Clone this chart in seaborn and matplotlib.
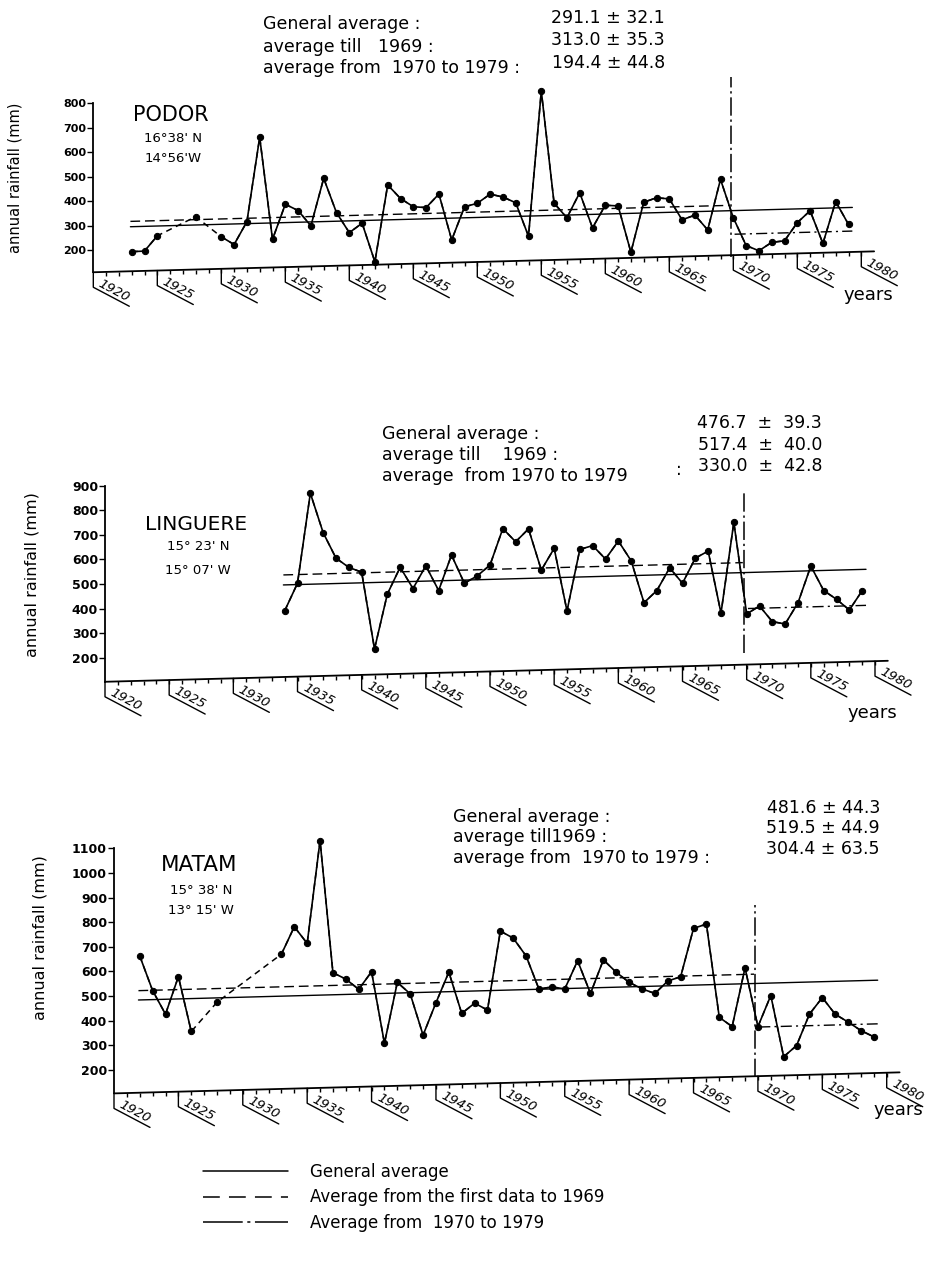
import numpy as np
import pandas as pd
import seaborn as sns
import matplotlib.pyplot as plt
from matplotlib.lines import Line2D
from matplotlib.transforms import Affine2D, IdentityTransform

W, H, DPI = 927, 1281, 100

# the original is drawn in oblique projection: the time axis climbs ~1.4 mm/year
SHEAR = 1.4
BREAK = 1969.8
nan = np.nan

# annual rainfall (mm), nan = missing year
podor_years = list(range(1923, 1980))
podor_rain = [189, 190, 251, nan, nan, 325, nan, 240, 207, 299,
              643, 224, 366, 339, 275, 468, 326, 243, 280, 121,
              434, 377, 342, 337, 391, 202, 336, 349, 385, 372,
              347, 209, 801, 341, 280, 381, 236, 327, 323, 132,
              335, 352, 346, 259, 277, 215, 420,
              262, 147, 124, 157, 162, 235, 282, 147, 317, 222]
podor_mean = [291.1, 313.0, 194.4]
podor_sd = [32.1, 35.3, 44.8]

linguere_years = list(range(1934, 1980))
linguere_rain = [371, 482, 847, 685, 580, 541, 520, 206, 428, 536,
                 448, 539, 437, 580, 464, 492, 535, 682, 627, 678,
                 509, 596, 340, 589, 603, 547, 619, 537, 365, 413,
                 504, 440, 541, 568, 314, 682,
                 308, 339, 274, 263, 348, 496, 395, 358, 313, 390]
linguere_mean = [476.7, 517.4, 330.0]
linguere_sd = [39.3, 40.0, 42.8]

matam_years = list(range(1922, 1980))
matam_rain = [660, 518, 421, 572, 348, nan, 464, nan, nan, nan,
              nan, 652, 762, 693, 1109, 571, 544, 501, 571, 279,
              525, 477, 308, 438, 561, 392, 432, 403, 722, 692,
              618, 482, 490, 480, 593, 459, 594, 542, 500, 472,
              452, 501, 517, 712, 728, 348, 309, 546,
              306, 431, 181, 225, 351, 417, 348, 315, 279, 252]
matam_mean = [481.6, 519.5, 304.4]
matam_sd = [44.3, 44.9, 63.5]

podor_labels = ["General average :", "average till   1969 :", "average from  1970 to 1979 :"]
linguere_labels = ["General average :", "average till    1969 :", "average  from 1970 to 1979"]
matam_labels = ["General average :", "average till1969 :", "average from  1970 to 1979 :"]
legend_labels = ["General average", "Average from the first data to 1969",
                 "Average from  1970 to 1979"]

sns.set_style("white")
plt.rcParams["font.family"] = ["DejaVu Sans"]
plt.rcParams["text.color"] = "black"
plt.rcParams["axes.labelcolor"] = "black"

fig = plt.figure(figsize=(W / DPI, H / DPI), dpi=DPI)

DASH = (0, (7, 3.5))
DASHDOT = (0, (8, 3, 1.5, 3))


def put(x, y, s, **kw):
    fig.text(x / W, 1 - y / H, s, **kw)


def draw_station(cfg, years, rain, means, sds, labels):
    x0, x1 = cfg["x1920"], cfg["x1980"]
    y200, sc = cfg["y200"], cfg["scale"]
    base, top = cfg["base"], cfg["top"]

    def ypx(v):
        return y200 - (v - 200) * sc

    ax = fig.add_axes([x0 / W, 1 - ypx(base) / H, (x1 - x0) / W,
                       (ypx(base) - ypx(top)) / H])
    ax.patch.set_visible(False)
    oblique = Affine2D(np.array([[1, 0, 0], [SHEAR, 1, -SHEAR * 1920],
                                 [0, 0, 1]])) + ax.transData

    df = pd.DataFrame({"year": years, "rain": rain})
    df["segment"] = df["rain"].isna().cumsum()
    valid = df.dropna()

    # dashed bridge over missing years, then the observed runs on top
    sns.lineplot(data=valid, x="year", y="rain", ax=ax, color="black",
                 lw=1.1, linestyle=(0, (4, 3)))
    sns.lineplot(data=valid, x="year", y="rain", units="segment",
                 estimator=None, ax=ax, color="black", lw=1.2,
                 marker="o", ms=4.5, mec="black")
    for ln in ax.lines:
        ln.set_transform(oblique)
        ln.set_clip_on(False)

    ax.set_xlim(1920, 1980)
    ax.set_ylim(base, top)

    first = valid["year"].iloc[0]
    spans = [(first - 0.1, 1979.3), (first - 0.1, 1969.7), (1970.1, 1979.3)]
    for m, (a, b), ls in zip(means, spans, ["-", DASH, DASHDOT]):
        ax.plot([a, b], [m, m], color="black", lw=1.0, linestyle=ls,
                transform=oblique, clip_on=False)

    ax.plot([BREAK, BREAK], cfg["vline"], color="black", lw=1.1,
            linestyle=(0, (12, 2.5, 1.5, 2.5)), clip_on=False)

    # slanted time axis
    ax.plot([1920, 1981], [base, base], color="black", lw=1.3,
            transform=oblique, clip_on=False)
    ax.plot(list(range(1921, 1981)), [base] * 60, ls="none", marker=3, ms=3,
            mew=1, color="black", transform=oblique, clip_on=False)
    for yr in range(1920, 1985, 5):
        px, py = oblique.transform((yr, base))
        fig.add_artist(Line2D([px, px, px + 36], [py, py - 15, py - 34],
                              color="black", lw=1.0,
                              transform=IdentityTransform()))
        fig.text(px + 3, py - 16, str(yr), transform=IdentityTransform(),
                 rotation=-28, rotation_mode="anchor", ha="left", va="bottom",
                 fontsize=9.5, style="italic")

    # vertical rainfall axis
    for side in ["top", "right", "bottom"]:
        ax.spines[side].set_visible(False)
    ax.spines["left"].set_bounds(base, cfg["yticks"][-1])
    ax.spines["left"].set_linewidth(1.3)
    ax.spines["left"].set_color("black")
    ax.set_xticks([])
    ax.set_yticks(cfg["yticks"])
    ax.tick_params(axis="y", direction="out", length=4, width=1, pad=1,
                   labelsize=cfg["ticksize"], left=True, colors="black")
    plt.setp(ax.get_yticklabels(), fontweight="bold")
    ax.set_xlabel("")
    ax.set_ylabel("annual rainfall (mm)", fontsize=cfg["labsize"])
    lx, ly = cfg["ylabel"]
    ax.yaxis.set_label_coords((lx - x0) / (x1 - x0),
                              (ypx(base) - ly) / (ypx(base) - ypx(top)))

    nx, ny = cfg["name_xy"]
    put(nx, ny, cfg["name"], fontsize=cfg["namesize"], ha="center", va="center")
    put(nx + 2, ny + cfg["coord_dy"][0], cfg["lat"], fontsize=9.5,
        ha="center", va="center")
    put(nx + 2, ny + cfg["coord_dy"][1], cfg["lon"], fontsize=9.5,
        ha="center", va="center")

    hx, rx = cfg["head_x"]
    gap = cfg["pm_gap"]
    for lab, m, sd, yl, yr_ in zip(labels, means, sds,
                                   cfg["head_left_y"], cfg["head_right_y"]):
        put(hx, yl, lab, fontsize=12.5, ha="left", va="center")
        put(rx, yr_, f"{m:.1f}{gap}±{gap}{sd:.1f}", fontsize=12.5, ha="right",
            va="center")

    put(*cfg["years_xy"], "years", fontsize=13, ha="center", va="center")


podor_cfg = dict(x1920=93.3, x1980=861.3, y200=250, scale=0.2445, base=109,
                 top=900, yticks=[200, 300, 400, 500, 600, 700, 800],
                 vline=[171, 907], ticksize=8, labsize=10.5, ylabel=(23, 178),
                 name="PODOR", name_xy=(171, 115), namesize=15,
                 lat="16°38' N", lon="14°56'W", coord_dy=(24, 44),
                 head_x=(263, 665), head_left_y=[24, 47, 68],
                 head_right_y=[18, 40, 63], pm_gap=" ", years_xy=(868, 295))

linguere_cfg = dict(x1920=105, x1980=875, y200=657.7, scale=0.2457, base=102,
                    top=950, yticks=[200, 300, 400, 500, 600, 700, 800, 900],
                    vline=[220, 872], ticksize=9, labsize=11.5, ylabel=(40, 575),
                    name="LINGUERE", name_xy=(196, 524), namesize=14.5,
                    lat="15° 23' N", lon="15° 07' W", coord_dy=(22, 46),
                    head_x=(382, 822), head_left_y=[434, 455, 476],
                    head_right_y=[423, 445, 466], pm_gap="  ",
                    years_xy=(872, 713))

matam_cfg = dict(x1920=114, x1980=886.7, y200=1070, scale=0.2463, base=105,
                 top=1150,
                 yticks=[200, 300, 400, 500, 600, 700, 800, 900, 1000, 1100],
                 vline=[172, 870], ticksize=9, labsize=11.5, ylabel=(47, 938),
                 name="MATAM", name_xy=(199, 865), namesize=15.5,
                 lat="15° 38' N", lon="13° 15' W", coord_dy=(25, 45),
                 head_x=(453, 880), head_left_y=[817, 837, 858],
                 head_right_y=[808, 828, 849], pm_gap=" ", years_xy=(898, 1110))

draw_station(podor_cfg, podor_years, podor_rain, podor_mean, podor_sd, podor_labels)
draw_station(linguere_cfg, linguere_years, linguere_rain, linguere_mean,
             linguere_sd, linguere_labels)
draw_station(matam_cfg, matam_years, matam_rain, matam_mean, matam_sd, matam_labels)

# the colon of LINGUERE's last line sits just before the value
put(679, 470, ":", fontsize=12.5, ha="center", va="center")

handles = [Line2D([], [], color="black", lw=1.1),
           Line2D([], [], color="black", lw=1.1, linestyle=(0, (11, 6))),
           Line2D([], [], color="black", lw=1.1, linestyle=(0, (26, 3, 2, 3)))]
fig.legend(handles, legend_labels, loc="upper left",
           bbox_to_anchor=(203 / W, 1 - 1163 / H), frameon=False,
           fontsize=12, handlelength=5.1, handletextpad=1.3, labelspacing=0.45,
           borderpad=0, borderaxespad=0)

fig.savefig("out.png", dpi=DPI, facecolor="white")
